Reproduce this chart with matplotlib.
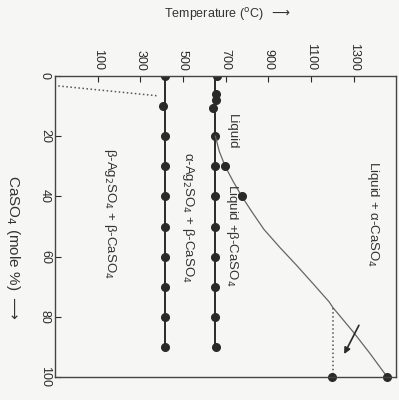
import numpy as np
import matplotlib.pyplot as plt

plt.rcParams['font.family'] = ['Liberation Sans', 'DejaVu Sans']
plt.rcParams['mathtext.fontset'] = 'dejavusans'

# Ag2SO4 alpha/beta transition line (mole % CaSO4, T in C)
ag_x = [0, 10, 20, 30, 40, 50, 60, 70, 80, 90]
ag_t = [415, 405, 415, 415, 415, 415, 415, 415, 415, 415]
ag_line_t = 415

# solidus at ~652 C
sol_x = [0, 6, 8, 10.5, 20, 30, 40, 50, 60, 70, 80, 90]
sol_t = [659, 656, 654, 643, 652, 652, 652, 652, 652, 652, 652, 655]
sol_line_t = 652

# liquidus curve
liq_x = [20, 25, 30, 35, 40, 45, 51, 57, 63, 69, 75, 77, 85, 92, 100]
liq_t = [652, 670, 698, 735, 776, 822, 880, 955, 1034, 1110, 1185, 1204, 1298, 1375, 1458]
liq_pts_x = [30, 40, 100]
liq_pts_t = [698, 776, 1458]

# dotted lines
dot1_x = [3.3, 6.6]
dot1_t = [-85, 383]
dot2_x = [77, 100]
dot2_t = [1204, 1204]
pt_x = [100]
pt_t = [1200]

fig = plt.figure(figsize=(3.99, 4.0), dpi=100, facecolor='#f6f6f4')
ax = fig.add_axes([0.138, 0.0575, 0.855, 0.7525])
ax.set_facecolor('#f6f6f4')

ink = '#2a2a2a'
ax.plot([ag_line_t, ag_line_t], [ag_x[0], ag_x[-1]], '-', color=ink, lw=1.4)
ax.plot(ag_t, ag_x, 'o', color=ink, ms=5.5)
ax.plot([sol_line_t, sol_line_t], [sol_x[0], sol_x[-1]], '-', color=ink, lw=1.4)
ax.plot(sol_t, sol_x, 'o', color=ink, ms=5.5)
ax.plot(liq_t, liq_x, '-', color='#666666', lw=0.9)
ax.plot(liq_pts_t, liq_pts_x, 'o', color=ink, ms=5.5, clip_on=False)
ax.plot(dot1_t, dot1_x, ':', color='#555555', lw=1.1)
ax.plot(dot2_t, dot2_x, ':', color='#555555', lw=1.1)
ax.plot(pt_t, pt_x, 'o', color=ink, ms=5.5, clip_on=False)

ax.set_xlim(-100, 1500)
ax.set_ylim(100, 0)

ax.xaxis.tick_top()
ax.set_xticks([100, 300, 500, 700, 900, 1100, 1300])
ax.set_yticks([0, 20, 40, 60, 80, 100])
ax.tick_params(axis='x', direction='in', length=4, width=0.8, pad=4,
               labelsize=9, labelrotation=-90, colors=ink)
ax.tick_params(axis='y', direction='in', length=4, width=0.8, pad=3,
               labelsize=9, labelrotation=-90, colors=ink)
for lab in ax.get_yticklabels():
    lab.set_verticalalignment('center')
for s in ax.spines.values():
    s.set_color('#444444')
    s.set_linewidth(1.0)

tc = '#333333'
ax.text(729, 18.6, 'Liquid', rotation=-90, ha='center', va='center', fontsize=9.5, color=tc)
ax.text(729, 53, 'Liquid +\u03b2-CaSO$_4$', rotation=-90, ha='center', va='center',
        fontsize=9.5, color=tc)
ax.text(1392, 45.7, 'Liquid + \u03b1-CaSO$_4$', rotation=-90, ha='center', va='center',
        fontsize=9.5, color=tc)
ax.text(524, 47, '\u03b1-Ag$_2$SO$_4$ + \u03b2-CaSO$_4$', rotation=-90, ha='center',
        va='center', fontsize=9.5, color=tc)
ax.text(158, 45.7, '\u03b2-Ag$_2$SO$_4$ + \u03b2-CaSO$_4$', rotation=-90, ha='center',
        va='center', fontsize=9.5, color=tc)
ax.annotate('', xy=(1250, 93.2), xytext=(1331, 82),
            arrowprops=dict(arrowstyle='-|>', color=ink, lw=1.2, mutation_scale=9))

ax.text(-0.123, 0.43, r'CaSO$_4$ (mole %) $\longrightarrow$', transform=ax.transAxes,
        rotation=-90, ha='center', va='center', fontsize=11, color=tc)
fig.text(0.57, 0.9625, r'Temperature ($^{\rm o}$C)  $\longrightarrow$', ha='center',
         va='center', fontsize=9, color=tc)

fig.savefig('out.png', dpi=100, facecolor=fig.get_facecolor())
